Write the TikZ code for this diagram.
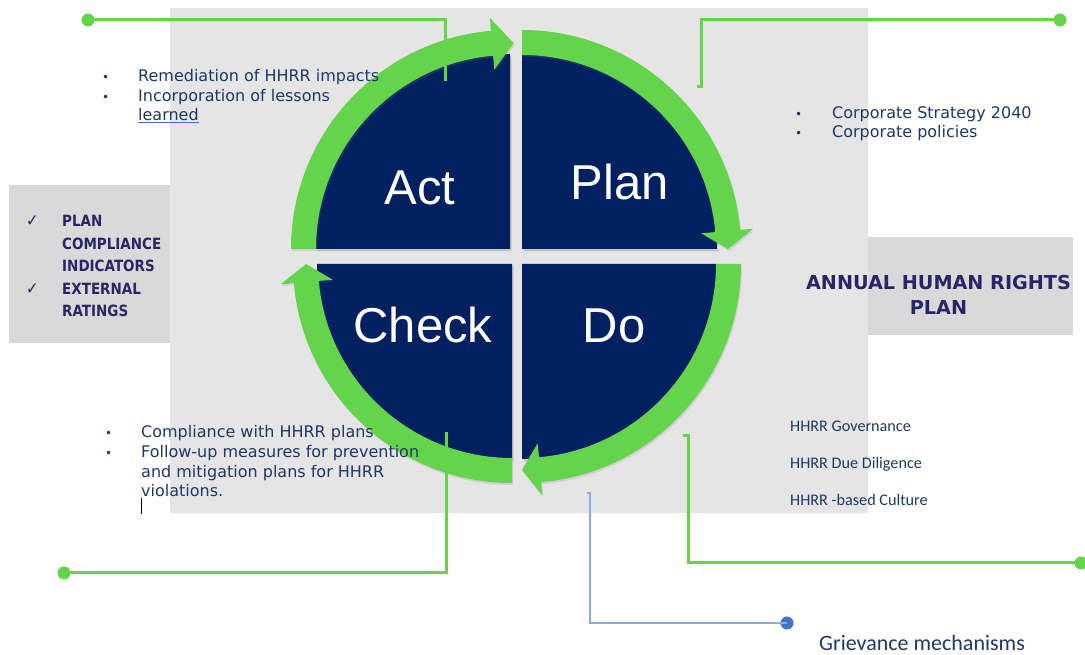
\documentclass[tikz,border=0pt]{standalone}
\usepackage{fontspec}
\usepackage{xcolor}
\usepackage{tikz}
\usetikzlibrary{calc}
\usetikzlibrary{shadows}
\setmainfont{DejaVu Sans}
\newfontfamily\cyclefont{Liberation Sans}
\newfontfamily\calfont{Carlito}
\newfontfamily\narrowfont[FakeStretch=0.87]{DejaVu Sans}
\definecolor{pdcanavy}{RGB}{0,32,96}
\definecolor{pdcagreen}{RGB}{99,212,76}
\definecolor{listnavy}{RGB}{32,56,100}
\definecolor{boxnavy}{RGB}{40,38,102}
\definecolor{panelgray}{RGB}{229,229,229}
\definecolor{boxgray}{RGB}{217,217,217}
\definecolor{linkblue}{RGB}{143,170,220}
\definecolor{dotblue}{RGB}{68,114,196}
\newcommand{\listdot}{{\fontsize{12}{12}\selectfont •}}
\newcommand{\listtick}{{\fontsize{17}{17}\selectfont ✓}}
\tikzstyle{quarter}=[fill=pdcanavy, drop shadow={opacity=0.3, shadow xshift=1.5pt, shadow yshift=-2.5pt}]
\tikzstyle{cyclearrow}=[fill=pdcagreen, drop shadow={opacity=0.2, shadow xshift=1pt, shadow yshift=-2pt}]
\tikzstyle{cycleword}=[text=white, font=\cyclefont\fontsize{49}{49}\selectfont, inner sep=0pt, anchor=base]
\tikzstyle{greenlink}=[draw=pdcagreen, line width=3pt]
\tikzstyle{greendot}=[shape=circle, fill=pdcagreen, minimum size=13pt, inner sep=0pt]
\tikzstyle{bluelink}=[draw=linkblue, line width=1.8pt]
\tikzstyle{bluedot}=[shape=circle, fill=dotblue, minimum size=13pt, inner sep=0pt]
\tikzstyle{listtext}=[text=listnavy, inner sep=0pt, anchor=base west]
\tikzstyle{boxtext}=[text=boxnavy, inner sep=0pt]

\begin{document}
\begin{tikzpicture}[x=1pt, y=1pt]
\useasboundingbox (0,0) rectangle (1085,655);
\fill[white] (0,0) rectangle (1085,655);
\fill[panelgray] (170,647) rectangle (868,142);
\fill[boxgray] (9,470) rectangle (170,312);
\fill[boxgray] (868,418) rectangle (1073,320);

\coordinate (act) at (510,406);
\coordinate (plan) at (522,406);
\coordinate (check) at (512,391);
\coordinate (do) at (522,391);

\fill[quarter] (act) -- ++(180:195) arc[start angle=180, end angle=90, radius=195] -- cycle;
\fill[quarter] (plan) -- ++(90:195) arc[start angle=90, end angle=0, radius=195] -- cycle;
\fill[quarter] (check) -- ++(270:195) arc[start angle=270, end angle=180, radius=195] -- cycle;
\fill[quarter] (do) -- ++(0:195) arc[start angle=0, end angle=-90, radius=195] -- cycle;

\begin{scope}[shift={(act)}]
\fill[cyclearrow] (180:219) arc[start angle=180, end angle=95, radius=219] -- (95:232) -- (89:206) -- (95:180) -- (95:194) arc[start angle=95, end angle=180, radius=194] -- cycle;
\end{scope}
\begin{scope}[shift={(plan)}]
\fill[cyclearrow] (90:219) arc[start angle=90, end angle=5, radius=219] -- (5:232) -- (0:206) -- (5:180) -- (5:194) arc[start angle=5, end angle=90, radius=194] -- cycle;
\end{scope}
\begin{scope}[shift={(do)}]
\fill[cyclearrow] (0:219) arc[start angle=0, end angle=-85, radius=219] -- (-85:232) -- (-90:206) -- (-85:180) -- (-85:194) arc[start angle=-85, end angle=0, radius=194] -- cycle;
\end{scope}
\begin{scope}[shift={(check)}]
\fill[cyclearrow] (270:219) arc[start angle=270, end angle=185, radius=219] -- (185:232) -- (180:206) -- (185:180) -- (185:194) arc[start angle=185, end angle=270, radius=194] -- cycle;
\end{scope}

\node[cycleword] (actword) at (420,450) {Act};
\node[cycleword] (planword) at (620,455) {Plan};
\node[cycleword] (checkword) at (423,312) {Check};
\node[cycleword] (doword) at (614,312) {Do};

\node[greendot] (actdot) at (88,635) {};
\node[greendot] (plandot) at (1060,635) {};
\node[greendot] (checkdot) at (64,82) {};
\node[greendot] (dodot) at (1081,92) {};
\node[bluedot] (grievdot) at (787,32) {};
\coordinate (actpin) at (445,574);
\coordinate (planpin) at (701,568);
\coordinate (checkpin) at (446,223);
\coordinate (dopin) at (688,219);
\coordinate (grievpin) at (590,162);

\draw[greenlink] (actdot.center) -| (actpin);
\draw[greenlink] (plandot.center) -| (planpin) -- ++(-4,0);
\draw[greenlink] (checkdot.center) -| (checkpin);
\draw[greenlink] (dodot.center) -| (dopin) -- ++(-5,0);
\draw[bluelink] (grievdot.center) -| (grievpin) -- ++(-3,0);

\node[listtext, font=\fontsize{16}{19.5}\selectfont] (actlist) at (102,573) {\begin{tabular}[t]{@{}p{36pt}@{}l@{}}\listdot & Remediation of HHRR impacts\\ \listdot & Incorporation of lessons\\ & {\color{dotblue}\underline{\color{listnavy}learned}}\end{tabular}};
\node[listtext, font=\fontsize{16}{19}\selectfont] (planlist) at (795,536) {\begin{tabular}[t]{@{}p{37pt}@{}l@{}}\listdot & Corporate Strategy 2040\\ \listdot & Corporate policies\end{tabular}};
\node[listtext, font=\fontsize{16}{19.6}\selectfont] (checklist) at (105,217) {\begin{tabular}[t]{@{}p{36pt}@{}l@{}}\listdot & Compliance with HHRR plans\\ \listdot & Follow-up measures for prevention\\ & and mitigation plans for HHRR\\ & violations.\end{tabular}};
\node[inner sep=0pt, anchor=south] (caret) at (141,141) {\rule{0.8pt}{16pt}};
\node[listtext, font=\calfont\fontsize{16.2}{37}\selectfont] (dolist) at (790,223) {\begin{tabular}[t]{@{}l@{}}HHRR Governance\\ HHRR Due Diligence\\ HHRR -based Culture\end{tabular}};
\node[listtext, font=\calfont\fontsize{22}{22}\selectfont] (grievtext) at (819,4) {Grievance mechanisms};

\node[boxtext, anchor=base west, font=\narrowfont\bfseries\fontsize{15.5}{22.4}\selectfont] (indicators) at (26,428) {\begin{tabular}[t]{@{}p{36pt}@{}l@{}}\listtick & PLAN\\ & COMPLIANCE\\ & INDICATORS\\ \listtick & EXTERNAL\\ & RATINGS\end{tabular}};
\node[boxtext, anchor=base, font=\bfseries\fontsize{19.2}{24.5}\selectfont] (annualplan) at (938.5,365) {\begin{tabular}[t]{@{}c@{}}ANNUAL HUMAN RIGHTS\\ PLAN\end{tabular}};
\end{tikzpicture}
\end{document}
